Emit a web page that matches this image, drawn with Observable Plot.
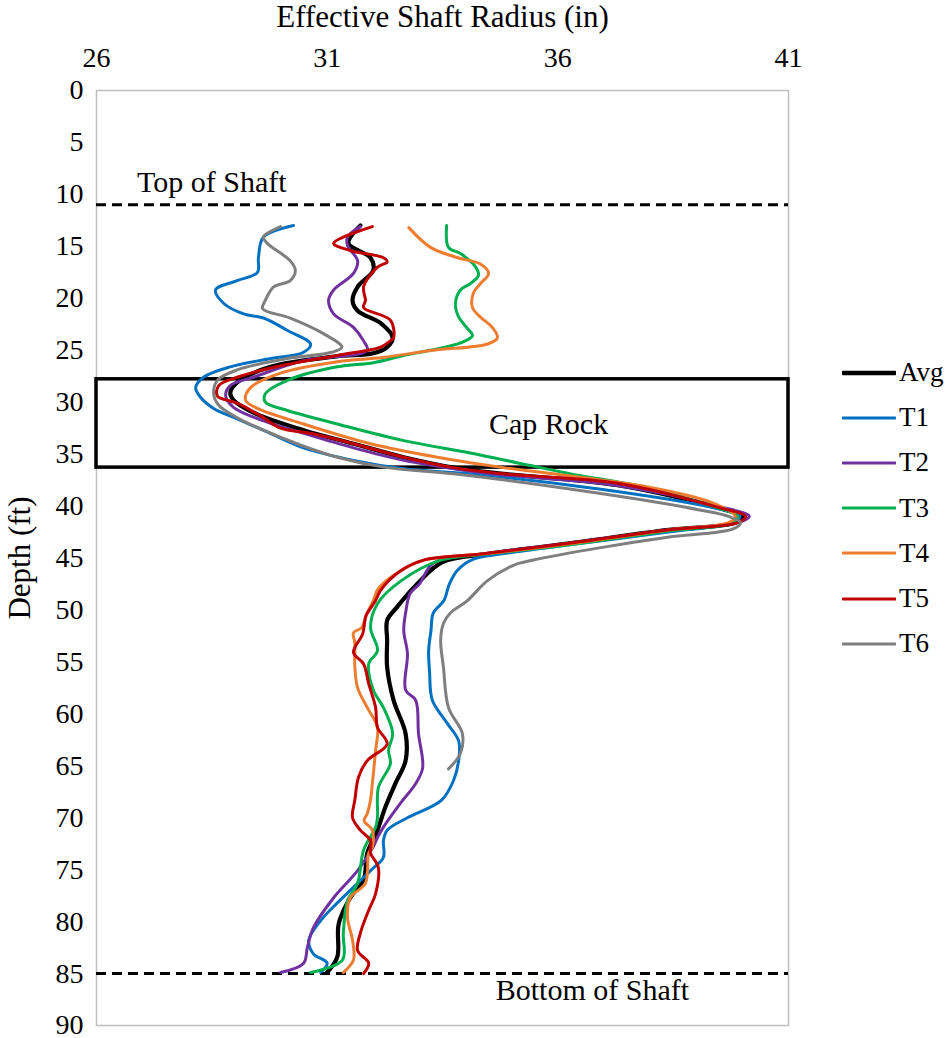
<!DOCTYPE html>
<html>
<head>
<meta charset="utf-8">
<script src="https://cdn.jsdelivr.net/npm/d3@7"></script>
<script src="https://cdn.jsdelivr.net/npm/@observablehq/plot@0.6"></script>
<style>
  body { margin: 0; background: #fff; }
  #wrap { position: relative; width: 945px; height: 1038px; }
  #wrap svg text { font-family: "Liberation Serif", "Times New Roman", serif; }
  #legend { position: absolute; left: 842px; top: 350px; font-family: "Liberation Serif", "Times New Roman", serif; font-size: 27px; color: #000; }
  .row { height: 45.2px; display: flex; align-items: center; white-space: nowrap; }
  .row svg { margin-right: 3px; }
</style>
</head>
<body>
<div id="wrap"><div id="legend"></div></div>
<script>
// ---- Data: [depth (ft), effective shaft radius (in)] ----
const avg = [[13.0,31.72],[14.7,31.46],[16.1,31.94],[17.3,32.0],[18.9,31.66],[20.2,31.55],[21.2,31.66],[22.4,32.16],[23.8,32.42],[24.7,32.3],[25.3,32.0],[25.6,31.2],[26.6,29.77],[28.1,29.05],[29.1,28.9],[29.8,28.97],[31.0,29.4],[32.7,30.49],[34.0,31.57],[35.3,32.66],[36.3,33.74],[36.9,34.82],[38.0,37.3],[40.1,39.4],[41.0,40.0],[41.6,39.85],[42.3,38.4],[43.6,36.25],[44.6,34.5],[45.4,33.5],[47.5,32.95],[49.8,32.5],[51.0,32.3],[52.9,32.3],[55.5,32.3],[58.7,32.44],[61.9,32.7],[64.5,32.7],[66.7,32.48],[69.0,32.26],[71.2,32.09],[73.4,31.87],[76.0,31.79],[77.7,31.5],[80.2,31.25],[83.4,31.22],[84.9,31.0]];
const t1 = [[13.0,30.27],[14.1,29.62],[16.1,29.51],[17.5,29.49],[18.3,29.05],[19.2,28.58],[20.5,28.76],[21.5,29.19],[21.9,29.62],[23.1,30.14],[24.4,30.64],[25.2,30.49],[25.8,29.77],[26.6,28.9],[27.6,28.32],[28.6,28.15],[29.5,28.25],[30.6,28.54],[31.6,29.05],[33.0,29.77],[34.4,30.49],[35.6,31.57],[36.4,32.66],[36.9,34.1],[38.3,36.8],[40.0,39.2],[41.0,39.95],[41.6,39.8],[42.5,38.4],[43.7,36.3],[44.6,34.8],[45.1,34.17],[46.2,33.82],[47.5,33.65],[49.1,33.53],[50.3,33.3],[52.0,33.25],[53.9,33.2],[56.0,33.22],[58.7,33.28],[60.9,33.6],[62.6,33.85],[64.5,33.85],[66.4,33.74],[68.3,33.48],[70.0,32.74],[71.2,32.3],[72.2,32.22],[73.8,32.22],[75.1,31.94],[78.2,31.22],[79.9,30.86],[81.8,30.6],[83.1,30.7],[84.0,31.0],[84.9,30.86]];
const t2 = [[13.1,31.72],[14.1,31.44],[14.9,31.44],[16.4,31.66],[17.6,31.57],[19.2,31.14],[20.2,31.03],[21.5,31.14],[22.8,31.57],[24.1,31.79],[25.0,31.87],[26.0,30.49],[27.6,29.4],[28.4,28.9],[29.4,28.8],[30.5,28.97],[31.8,29.62],[33.0,30.49],[34.4,31.57],[35.6,32.66],[36.4,33.74],[37.0,34.82],[38.0,37.25],[40.0,39.45],[41.0,40.15],[41.6,39.9],[42.3,38.4],[43.6,36.2],[44.6,34.4],[45.5,33.3],[47.5,33.0],[48.4,32.8],[50.3,32.7],[52.0,32.66],[54.2,32.74],[57.7,32.7],[58.7,32.92],[61.9,32.98],[65.2,33.07],[66.7,32.92],[68.6,32.59],[70.9,32.22],[71.9,32.09],[72.8,32.0],[75.1,31.66],[77.7,31.14],[80.6,30.7],[82.5,30.57],[84.0,30.49],[84.9,29.99]];
const t3 = [[13.0,33.59],[15.1,33.63],[15.7,33.89],[17.0,34.22],[17.8,34.28],[18.6,34.1],[19.2,33.89],[20.5,33.78],[21.8,33.85],[22.9,34.04],[23.6,34.15],[24.3,33.89],[25.0,33.24],[25.5,32.66],[26.2,32.0],[26.6,31.22],[27.9,30.14],[29.2,29.66],[30.0,29.66],[30.8,30.14],[32.1,31.22],[33.7,32.66],[34.9,34.1],[35.9,35.19],[36.9,36.28],[38.2,37.9],[40.0,39.35],[41.0,39.9],[41.6,39.8],[42.4,38.4],[43.7,36.3],[44.6,34.5],[45.2,33.46],[47.2,32.6],[49.4,32.09],[51.7,31.94],[53.9,32.09],[55.2,31.9],[57.7,32.0],[59.4,32.22],[61.9,32.42],[63.5,32.33],[64.8,32.37],[67.1,32.11],[70.0,32.09],[70.9,32.05],[73.1,31.79],[76.3,31.66],[78.0,31.44],[81.1,31.35],[83.7,31.33],[84.9,30.64]];
const t4 = [[13.2,32.77],[15.1,33.24],[16.1,33.83],[16.7,34.32],[17.6,34.5],[18.6,34.32],[19.5,34.17],[20.9,34.15],[21.8,34.32],[22.8,34.58],[23.8,34.69],[24.4,34.48],[25.0,33.3],[25.7,32.2],[26.1,31.22],[27.2,29.99],[28.6,29.34],[29.8,29.23],[30.6,29.49],[32.1,30.49],[34.0,31.94],[35.3,33.39],[36.3,34.82],[36.9,35.9],[38.2,38.0],[39.6,39.3],[41.0,39.85],[41.6,39.7],[42.3,38.4],[43.6,36.3],[44.6,34.4],[45.2,33.1],[46.5,32.5],[48.0,32.1],[49.1,32.0],[50.5,31.85],[51.7,31.75],[52.2,31.57],[53.2,31.6],[55.5,31.6],[57.5,31.66],[59.4,31.87],[61.3,32.09],[63.5,32.05],[66.7,31.98],[68.3,31.94],[69.6,31.87],[70.3,31.8],[71.2,31.98],[72.8,31.98],[73.4,31.9],[76.3,31.83],[77.7,31.5],[79.6,31.44],[81.8,31.55],[83.7,31.57],[84.9,31.35]];
const t5 = [[13.1,31.98],[14.7,31.14],[15.4,31.5],[16.1,32.22],[16.5,32.3],[17.0,32.09],[18.9,31.79],[20.2,31.83],[20.9,31.79],[22.1,32.37],[23.8,32.44],[24.1,32.37],[24.7,32.16],[25.5,31.22],[26.5,29.99],[27.6,29.05],[28.4,28.65],[29.4,28.62],[30.1,29.05],[31.3,29.55],[32.5,29.99],[33.0,30.64],[34.0,31.57],[35.3,32.66],[36.3,33.74],[36.9,34.82],[37.8,37.3],[40.1,39.46],[41.0,40.07],[41.6,39.9],[42.3,38.38],[43.6,36.2],[44.6,34.39],[45.2,33.09],[46.2,32.6],[48.1,32.16],[49.1,32.05],[50.3,31.87],[50.7,31.83],[52.3,31.77],[54.1,31.57],[55.2,31.79],[57.1,31.9],[59.4,32.05],[61.3,32.09],[62.9,32.3],[64.5,31.87],[66.1,31.68],[68.3,31.6],[70.0,31.55],[71.2,31.72],[72.2,31.94],[73.4,31.94],[74.8,32.11],[77.3,32.05],[78.9,31.9],[81.1,31.72],[82.8,31.66],[84.0,31.9],[85.0,31.79]];
const t6 = [[13.1,29.99],[14.1,29.62],[14.7,29.7],[16.4,30.2],[17.3,30.31],[18.3,30.2],[18.9,29.84],[20.2,29.66],[21.0,29.6],[21.9,30.2],[23.4,30.92],[24.7,31.32],[25.2,31.1],[25.8,30.14],[26.9,29.05],[27.9,28.62],[29.2,28.54],[30.3,28.65],[31.5,29.05],[32.7,29.62],[34.0,30.35],[35.3,31.22],[36.3,32.3],[36.9,33.74],[38.8,36.93],[40.4,39.1],[41.0,39.7],[41.6,39.96],[42.2,39.8],[43.0,38.38],[44.0,36.93],[45.2,35.47],[45.7,35.04],[47.2,34.47],[49.1,34.04],[50.3,33.67],[51.3,33.52],[52.9,33.46],[55.5,33.52],[59.4,33.63],[61.9,33.93],[63.8,33.89],[65.3,33.63]];

const seriesNames = ["Avg", "T1", "T2", "T3", "T4", "T5", "T6"];
const seriesData = [avg, t1, t2, t3, t4, t5, t6];
const seriesColors = ["#000000", "#0070C0", "#7030A0", "#00B050", "#ED7D31", "#C00000", "#7F7F7F"];

const xDomain = [26, 41];
const xTicks = [26, 31, 36, 41];
const yDomain = [0, 90];
const yTicks = d3.range(0, 91, 5);

const shaftLimits = [11, 85];
const capRock = [{top: 27.8, bottom: 36.3}];
const notes = [
  {text: "Top of Shaft", radius: 28.5, depth: 8.8},
  {text: "Cap Rock", radius: 35.8, depth: 32.1},
  {text: "Bottom of Shaft", radius: 36.75, depth: 86.6}
];

// ---- Build table ----
const rows = [];
seriesData.forEach((arr, i) => arr.forEach(([depth, radius]) => rows.push({series: seriesNames[i], depth, radius})));
const avgRows = rows.filter(d => d.series === "Avg");
const testRows = rows.filter(d => d.series !== "Avg");

const font = "Liberation Serif, Times New Roman, serif";

const chart = Plot.plot({
  width: 945,
  height: 1038,
  marginLeft: 96,
  marginRight: 157,
  marginTop: 90,
  marginBottom: 13,
  style: {fontFamily: font, fontSize: "28px", color: "#000", background: "#fff"},
  x: {domain: xDomain, axis: null},
  y: {domain: yDomain, reverse: true, axis: null},
  color: {domain: seriesNames, range: seriesColors},
  marks: [
    Plot.frame({stroke: "#bfbfbf", strokeWidth: 1.5}),
    Plot.axisX(xTicks, {anchor: "top", tickSize: 0, tickPadding: 24, label: null, fontSize: 28, fontFamily: font}),
    Plot.axisY(yTicks, {anchor: "left", tickSize: 0, tickPadding: 13, label: null, fontSize: 28, fontFamily: font}),
    Plot.text(["Effective Shaft Radius (in)"], {frameAnchor: "top", textAnchor: "middle", dy: -73, lineAnchor: "middle", fontSize: 31, fontFamily: font}),
    Plot.text(["Depth (ft)"], {frameAnchor: "left", textAnchor: "middle", lineAnchor: "middle", dx: -76, rotate: -90, fontSize: 31, fontFamily: font}),
    Plot.ruleY(shaftLimits, {stroke: "#000", strokeWidth: 3, strokeDasharray: "10,6"}),
    Plot.rect(capRock, {x1: () => xDomain[0], x2: () => xDomain[1], y1: "top", y2: "bottom", fill: "none", stroke: "#000", strokeWidth: 3.5}),
    Plot.line(avgRows, {x: "radius", y: "depth", z: "series", stroke: "series", strokeWidth: 4.2, curve: "catmull-rom"}),
    Plot.line(testRows, {x: "radius", y: "depth", z: "series", stroke: "series", strokeWidth: 3, curve: "catmull-rom"}),
    Plot.text(notes, {x: "radius", y: "depth", text: "text", fontSize: 30, fontFamily: font, fill: "#000"})
  ]
});

const wrap = document.getElementById("wrap");
wrap.insertBefore(chart, wrap.firstChild);

const legend = document.getElementById("legend");
seriesNames.forEach((name, i) => {
  const row = document.createElement("div");
  row.className = "row";
  const w = i === 0 ? 4.5 : 3.2;
  row.innerHTML = `<svg width="54" height="10"><line x1="1" y1="5" x2="53" y2="5" stroke="${seriesColors[i]}" stroke-width="${w}" stroke-linecap="round"/></svg><span>${name}</span>`;
  legend.appendChild(row);
});
</script>
</body>
</html>
